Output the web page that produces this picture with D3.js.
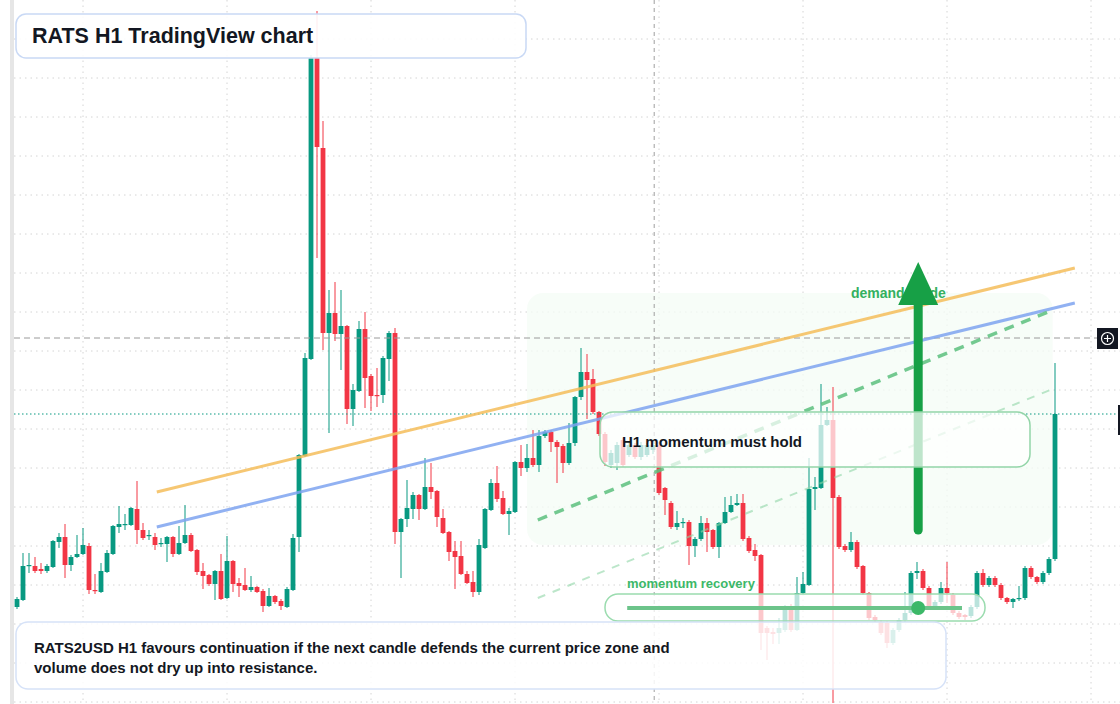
<!DOCTYPE html>
<html><head><meta charset="utf-8">
<script src="https://cdn.jsdelivr.net/npm/d3@7/dist/d3.min.js"></script>
<style>body{margin:0;background:#fff;font-family:"Liberation Sans",Arial,sans-serif}</style>
</head><body><svg id="c" width="1120" height="704"></svg>
<script>
// price levels (arbitrary price units)
const openP  = [97,104,138,138,135,133,137,162,167,139,147,150,158,114,112,132,150,177,179,179,195,174,168,167,160,160,167,150,161,169,154,133,129,120,133,106,143,121,119,114,117,113,98,108,103,97,114,167,248,345,646,556,371,391,370,378,295,313,375,328,309,309,345,371,172,185,195,209,195,217,213,186,172,153,148,130,122,112,156,194,221,206,190,192,242,236,246,239,268,272,262,258,241,261,307,332,325,292,270,239,241,264,249,259,247,249,254,259,216,201,177,181,182,158,165,181,174,157,181,192,199,201,166,154,149,76,72,71,74,98,74,111,119,215,216,279,284,207,158,154,162,138,111,87,82,81,61,74,84,91,131,133,116,97,102,116,109,91,89,88,97,131,119,126,119,106,102,105,106,136,127,122,131,145];
const closeP = [105,138,139,133,133,138,163,167,139,147,150,159,114,113,133,151,178,180,180,196,174,166,169,159,161,167,150,161,169,153,132,128,120,133,105,143,120,118,114,117,112,98,108,102,98,115,166,249,346,646,557,371,391,370,378,295,314,375,326,308,308,346,371,172,185,196,209,195,217,212,187,171,152,147,130,121,112,159,195,221,205,190,193,242,236,246,239,268,272,262,257,241,261,307,332,324,292,270,242,251,259,239,259,247,259,259,259,211,204,177,181,182,158,165,181,172,157,181,192,199,201,165,153,148,71,71,70,76,97,74,111,120,215,217,279,284,206,157,154,162,137,111,86,84,71,61,74,84,91,131,133,116,97,102,116,111,91,87,87,97,131,119,126,119,106,102,105,106,136,127,122,131,145,290];
const highP  = [107,151,151,147,141,140,164,171,180,149,169,176,161,130,141,154,179,198,190,197,223,181,174,171,166,168,168,178,199,171,155,141,130,134,150,168,144,126,136,128,118,115,116,109,105,117,170,250,351,649,693,583,414,422,414,379,320,383,392,330,336,348,373,376,186,224,212,210,246,241,214,195,173,163,163,133,133,165,196,225,238,213,196,243,259,260,274,274,274,274,264,260,281,308,356,350,335,293,272,254,262,266,262,261,262,261,262,262,217,203,193,186,184,167,188,186,175,182,207,208,210,210,168,160,150,78,76,86,99,100,127,132,246,227,320,297,317,209,160,172,164,139,112,89,84,83,76,86,112,133,142,135,118,104,122,142,111,93,90,99,133,135,128,128,121,107,106,118,138,138,128,133,147,341];
const lowP   = [95,103,131,131,130,131,136,156,126,133,146,149,110,110,111,131,149,171,174,178,160,164,164,154,157,142,147,149,160,152,129,115,118,104,104,105,112,107,113,112,111,92,97,100,94,96,113,152,247,344,446,354,271,363,334,280,278,312,296,293,297,301,323,160,126,177,185,184,194,205,177,170,143,115,129,120,107,109,155,193,202,189,169,191,228,232,237,232,266,252,221,231,239,258,304,285,290,268,238,236,234,237,247,245,244,247,250,209,189,175,174,176,139,147,163,152,155,146,180,191,198,163,151,143,54,44,60,60,72,72,73,110,118,194,215,278,1,155,152,152,135,109,84,82,69,56,59,72,82,89,125,114,95,95,100,101,89,85,84,86,95,117,117,117,104,100,96,103,104,125,120,120,129,143];
const gridIdx = [11,35,59,83,107,131,155,179];
const gridPrices = [665,626,587,548,509,470,431,392,353,314,275,236,197,158,119,80,41,2];
const orangeLine = [[23.3,212],[176.3,436]];
const blueLine   = [[23.3,177],[176.3,401]];
const greenDash  = [[86.8,184],[171.8,392]];
const lightDash  = [[86.8,106],[172.2,314]];
const arrowPts   = {idx:150.2, from:174, to:399, tip:442};
const recovery   = {from:101.7, to:157.5, price:96, dot:150.2};
const refPrice = 366, lastPrice = 290, cursorIdx = 106.2;
const title = "RATS H1 TradingView chart";
const note = ["RATS2USD H1 favours continuation if the next candle defends the current price zone and","volume does not dry up into resistance."];

const svg = d3.select("#c");
const x = d3.scaleLinear().domain([0,173]).range([17,1055]);
const y = d3.scaleLinear().domain([0,704]).range([704,0]);
const UP="#089981", DN="#f23645";

svg.append("rect").attr("x",10).attr("y",0).attr("width",4).attr("height",704).attr("fill","#e6e6e6");
const g = svg.append("g");
g.selectAll(".vg").data(gridIdx).join("line").attr("x1",d=>x(d)).attr("x2",d=>x(d)).attr("y1",0).attr("y2",704)
 .attr("stroke","#d4d4d4").attr("stroke-dasharray","1.5,4");
g.selectAll(".hg").data(gridPrices).join("line").attr("x1",14).attr("x2",1120).attr("y1",d=>y(d)).attr("y2",d=>y(d))
 .attr("stroke","#d4d4d4").attr("stroke-dasharray","1.5,4");

// demand zone
svg.append("rect").attr("x",x(85)).attr("y",y(411)).attr("width",x(172.6)-x(85)).attr("height",y(159)-y(411))
 .attr("rx",16).attr("fill","#f4fcf6").attr("opacity",0.75);

svg.append("line").attr("x1",x(cursorIdx)).attr("x2",x(cursorIdx)).attr("y1",0).attr("y2",704)
 .attr("stroke","#9e9e9e").attr("stroke-dasharray","4,4");

const idx = d3.range(openP.length);
const cg = svg.append("g");
cg.selectAll(".w").data(idx).join("line")
 .attr("x1",i=>x(i)).attr("x2",i=>x(i)).attr("y1",i=>y(highP[i])).attr("y2",i=>y(lowP[i]))
 .attr("stroke",i=>closeP[i]>=openP[i]?UP:DN).attr("stroke-width",1);
cg.selectAll(".b").data(idx).join("rect")
 .attr("x",i=>x(i)-2.4).attr("width",4.8)
 .attr("y",i=>y(Math.max(openP[i],closeP[i])))
 .attr("height",i=>Math.max(1.2,Math.abs(y(openP[i])-y(closeP[i]))))
 .attr("fill",i=>closeP[i]>=openP[i]?UP:DN);

svg.append("line").attr("x1",14).attr("x2",1100).attr("y1",y(refPrice)).attr("y2",y(refPrice))
 .attr("stroke","#9a9a9a").attr("stroke-dasharray","6,4");
svg.append("line").attr("x1",14).attr("x2",1120).attr("y1",y(lastPrice)).attr("y2",y(lastPrice))
 .attr("stroke",UP).attr("stroke-dasharray","1.5,2.5");

const ln = d3.line().x(d=>x(d[0])).y(d=>y(d[1]));
svg.append("path").attr("d",ln(orangeLine)).attr("stroke","#f5bd5a").attr("stroke-width",3).attr("fill","none").attr("opacity",0.85);
svg.append("path").attr("d",ln(blueLine)).attr("stroke","#7ea3f0").attr("stroke-width",3).attr("fill","none").attr("opacity",0.85);
svg.append("path").attr("d",ln(greenDash)).attr("stroke","#5cbf7e").attr("stroke-width",3.5).attr("fill","none").attr("stroke-dasharray","10,8").attr("opacity",0.85);
svg.append("path").attr("d",ln(lightDash)).attr("stroke","#8fd6a6").attr("stroke-width",2).attr("fill","none").attr("stroke-dasharray","8,8").attr("opacity",0.6);

svg.append("text").attr("x",851).attr("y",298).text("demand guide").attr("font-size",14).attr("font-weight","bold").attr("fill","#34b060");
const ax = x(arrowPts.idx);
svg.append("line").attr("x1",ax).attr("x2",ax).attr("y1",y(arrowPts.from)).attr("y2",y(arrowPts.to))
 .attr("stroke","#17a046").attr("stroke-width",9).attr("stroke-linecap","round");
svg.append("path").attr("d",`M${ax-20},${y(arrowPts.to)}L${ax+20},${y(arrowPts.to)}L${ax},${y(arrowPts.tip)}Z`).attr("fill","#17a046");

function box(x0,y0,w,h,r,stroke,op){
  svg.append("rect").attr("x",x0).attr("y",y0).attr("width",w).attr("height",h).attr("rx",r)
   .attr("fill","#fff").attr("fill-opacity",op).attr("stroke",stroke).attr("stroke-width",1.5);
}
box(600,412,430,55,13,"#93d5a8",0.72);
svg.append("text").attr("x",622).attr("y",447).text("H1 momentum must hold").attr("font-size",15).attr("font-weight","bold").attr("fill","#131722");

svg.append("text").attr("x",627).attr("y",588).text("momentum recovery").attr("font-size",13).attr("font-weight","bold").attr("fill","#3cb868");
box(605,594,380,27,13,"#9bdcaf",0.72);
svg.append("line").attr("x1",x(recovery.from)).attr("x2",x(recovery.to)).attr("y1",y(recovery.price)).attr("y2",y(recovery.price))
 .attr("stroke","#6cc48a").attr("stroke-width",4);
svg.append("circle").attr("cx",x(recovery.dot)).attr("cy",y(recovery.price)).attr("r",7).attr("fill","#3cb868");

box(16,622,930,67,12,"#d6e2f8",0.85);
svg.append("text").attr("x",34).attr("y",653).text(note[0]).attr("font-size",15).attr("font-weight","bold").attr("fill","#131722");
svg.append("text").attr("x",34).attr("y",673).text(note[1]).attr("font-size",15).attr("font-weight","bold").attr("fill","#131722");

box(16,14,510,44,10,"#c9d9f5",0.9);
svg.append("text").attr("x",32).attr("y",43).text(title).attr("font-size",21.5).attr("font-weight","bold").attr("fill","#131722");

// crosshair button
svg.append("rect").attr("x",1097).attr("y",328).attr("width",21).attr("height",21).attr("fill","#131722");
svg.append("circle").attr("cx",1107.5).attr("cy",338.5).attr("r",6).attr("fill","none").attr("stroke","#fff").attr("stroke-width",1.2);
svg.append("path").attr("d","M1107.5,335V342M1104,338.5H1111").attr("stroke","#fff").attr("stroke-width",1.2);
svg.append("rect").attr("x",1118).attr("y",405).attr("width",2).attr("height",30).attr("fill","#131722");
</script></body></html>
